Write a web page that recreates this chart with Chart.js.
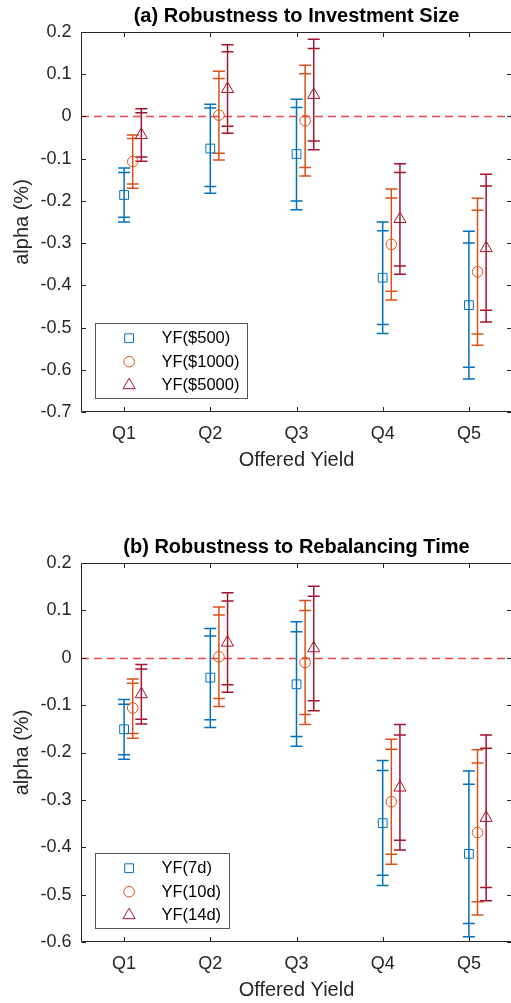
<!DOCTYPE html>
<html>
<head>
<meta charset="utf-8">
<script src="https://cdn.jsdelivr.net/npm/chart.js@4.4.1/dist/chart.umd.min.js"></script>
<style>
  html, body { margin: 0; padding: 0; background: #fff; overflow: hidden; }
  .panel { position: absolute; left: 0; }
</style>
</head>
<body>
<canvas id="chartA" class="panel" width="520" height="480" style="top:0px"></canvas>
<canvas id="chartB" class="panel" width="520" height="479" style="top:531px"></canvas>
<script>
const quintiles = ["Q1", "Q2", "Q3", "Q4", "Q5"];

// (a) investment size: alpha and confidence bounds [low, high] per quintile
const alphaUsd500 = [-0.186, -0.076, -0.089, -0.382, -0.447];
const ci90Usd500 = [[-0.239, -0.133], [-0.166, 0.020], [-0.200, 0.021], [-0.493, -0.271], [-0.594, -0.300]];
const ci95Usd500 = [[-0.250, -0.122], [-0.182, 0.029], [-0.221, 0.041], [-0.514, -0.250], [-0.622, -0.272]];

const alphaUsd1000 = [-0.107, 0.003, -0.010, -0.303, -0.368];
const ci90Usd1000 = [[-0.160, -0.052], [-0.087, 0.090], [-0.121, 0.101], [-0.414, -0.193], [-0.515, -0.222]];
const ci95Usd1000 = [[-0.170, -0.044], [-0.103, 0.107], [-0.141, 0.121], [-0.435, -0.172], [-0.542, -0.194]];

const alphaUsd5000 = [-0.044, 0.065, 0.051, -0.243, -0.312];
const ci90Usd5000 = [[-0.096, 0.009], [-0.023, 0.153], [-0.058, 0.161], [-0.354, -0.133], [-0.459, -0.165]];
const ci95Usd5000 = [[-0.106, 0.018], [-0.040, 0.170], [-0.079, 0.183], [-0.374, -0.112], [-0.487, -0.137]];

// (b) rebalancing time
const alpha7d = [-0.151, -0.042, -0.056, -0.349, -0.414];
const ci90_7d = [[-0.205, -0.098], [-0.131, 0.046], [-0.166, 0.055], [-0.459, -0.238], [-0.561, -0.267]];
const ci95_7d = [[-0.214, -0.088], [-0.147, 0.062], [-0.187, 0.076], [-0.481, -0.217], [-0.589, -0.239]];

const alpha10d = [-0.106, 0.002, -0.010, -0.304, -0.369];
const ci90_10d = [[-0.160, -0.054], [-0.086, 0.090], [-0.120, 0.100], [-0.415, -0.193], [-0.515, -0.222]];
const ci95_10d = [[-0.170, -0.045], [-0.103, 0.107], [-0.141, 0.121], [-0.436, -0.172], [-0.543, -0.194]];

const alpha14d = [-0.077, 0.032, 0.020, -0.274, -0.338];
const ci90_14d = [[-0.130, -0.024], [-0.057, 0.120], [-0.091, 0.130], [-0.385, -0.163], [-0.485, -0.191]];
const ci95_14d = [[-0.140, -0.014], [-0.073, 0.137], [-0.112, 0.151], [-0.406, -0.141], [-0.513, -0.163]];

const yTicksA = [0.2, 0.1, 0, -0.1, -0.2, -0.3, -0.4, -0.5, -0.6, -0.7];
const yTicksB = [0.2, 0.1, 0, -0.1, -0.2, -0.3, -0.4, -0.5, -0.6];

const colors = ["#0072BD", "#D95319", "#A2142F"];
const markers = [
    { style: "rect", radius: 6.2 },
    { style: "circle", radius: 5.3 },
    { style: "triangle", radius: 7 },
];
const seriesOffset = [0, 0.1, 0.2];
const axisColor = "#262626";

Chart.defaults.font.family = '"Liberation Sans", Arial, Helvetica, sans-serif';
Chart.defaults.color = axisColor;

// vertical bars with caps at both the 90% and 95% bounds, plus the dashed zero line
const ciBars = {
    id: "ciBars",
    beforeDatasetsDraw(chart) {
        const { ctx, chartArea, scales: { x, y } } = chart;
        ctx.save();
        const y0 = Math.round(y.getPixelForValue(0)) + 0.5;
        ctx.strokeStyle = "rgb(240,70,70)";
        ctx.lineWidth = 1.3;
        ctx.setLineDash([8, 5]);
        ctx.beginPath();
        ctx.moveTo(chartArea.left, y0);
        ctx.lineTo(chartArea.right, y0);
        ctx.stroke();
        ctx.setLineDash([]);

        chart.data.datasets.forEach(ds => {
            ctx.strokeStyle = ds.borderColor;
            ctx.lineWidth = 1.5;
            ds.data.forEach((p, i) => {
                const px = x.getPixelForValue(p.x);
                const [lo90, hi90] = ds.ci90[i];
                const [lo95, hi95] = ds.ci95[i];
                ctx.beginPath();
                ctx.moveTo(px, y.getPixelForValue(lo95));
                ctx.lineTo(px, y.getPixelForValue(hi95));
                [lo95, lo90, hi90, hi95].forEach(v => {
                    const py = y.getPixelForValue(v);
                    ctx.moveTo(px - 6, py);
                    ctx.lineTo(px + 6, py);
                });
                ctx.stroke();
            });
        });
        ctx.restore();
    },
};

// axes box with inward ticks, and the boxed legend in the lower left
const frameAndLegend = {
    id: "frameAndLegend",
    afterDraw(chart) {
        const { ctx, chartArea: a, scales: { x, y } } = chart;
        const L = Math.round(a.left) + 0.5, R = Math.round(a.right) - 0.5;
        const T = Math.round(a.top) + 0.5, B = Math.round(a.bottom) - 0.5;
        ctx.save();
        ctx.strokeStyle = axisColor;
        ctx.lineWidth = 1;
        ctx.beginPath();
        ctx.moveTo(L, T); ctx.lineTo(R, T); ctx.lineTo(R, B); ctx.lineTo(L, B); ctx.closePath();
        x.ticks.forEach(t => {
            const px = Math.round(x.getPixelForValue(t.value)) + 0.5;
            ctx.moveTo(px, B); ctx.lineTo(px, B - 4.5);
            ctx.moveTo(px, T); ctx.lineTo(px, T + 4.5);
        });
        y.ticks.forEach(t => {
            const py = Math.round(y.getPixelForValue(t.value)) + 0.5;
            ctx.moveTo(L, py); ctx.lineTo(L + 4.5, py);
            ctx.moveTo(R, py); ctx.lineTo(R - 4.5, py);
        });
        ctx.stroke();

        // legend
        ctx.font = '16.5px "Liberation Sans", Arial, sans-serif';
        const sets = chart.data.datasets;
        const textW = Math.max(...sets.map(d => ctx.measureText(d.label).width));
        const left = Math.round(a.left + 14) + 0.5;
        const h = 75;
        const top = Math.round(a.bottom - 14 - h) + 0.5;
        const w = Math.round(66 + textW + 8);
        ctx.fillStyle = "#fff";
        ctx.fillRect(left, top, w, h);
        ctx.strokeStyle = "#555";
        ctx.strokeRect(left, top, w, h);
        ctx.textBaseline = "middle";
        ctx.textAlign = "left";
        sets.forEach((ds, i) => {
            const ry = top + 14.7 + i * 23.5;
            ctx.strokeStyle = ds.borderColor;
            ctx.fillStyle = "rgba(0,0,0,0)";
            ctx.lineWidth = 1;
            Chart.helpers.drawPoint(ctx, { pointStyle: ds.pointStyle, radius: ds.pointRadius, borderWidth: 1, rotation: 0 }, left + 33.6, ry);
            ctx.fillStyle = "#000";
            ctx.fillText(ds.label, left + 66, ry + 0.5);
        });
        ctx.restore();
    },
};

function makePanel(canvasId, title, labels, alphas, ci90s, ci95s, yTicks) {
    const datasets = labels.map((label, k) => ({
        label: label,
        data: alphas[k].map((v, i) => ({ x: i + 1 + seriesOffset[k], y: v })),
        ci90: ci90s[k],
        ci95: ci95s[k],
        borderColor: colors[k],
        pointBorderColor: colors[k],
        pointBackgroundColor: "rgba(0,0,0,0)",
        pointStyle: markers[k].style,
        pointRadius: markers[k].radius,
        pointBorderWidth: 1,
        showLine: false,
    }));

    const ctx = document.getElementById(canvasId).getContext("2d");
    return new Chart(ctx, {
        type: "scatter",
        data: { datasets: datasets },
        options: {
            responsive: false,
            animation: false,
            events: [],
            devicePixelRatio: 1,
            layout: { padding: { left: 0, right: 4, top: 0, bottom: 0 } },
            plugins: {
                legend: { display: false },
                tooltip: { enabled: false },
                title: {
                    display: true,
                    text: title,
                    fullSize: false,
                    color: "#000",
                    font: { size: 20, weight: "bold" },
                    padding: { top: 4, bottom: 4 },
                },
            },
            scales: {
                x: {
                    type: "linear",
                    min: 0.5,
                    max: 5.5,
                    afterBuildTicks: scale => {
                        scale.ticks = quintiles.map((q, i) => ({ value: i + 1 }));
                    },
                    afterFit: scale => { scale.height = 68; },
                    grid: { display: false, drawTicks: false },
                    border: { display: false },
                    ticks: {
                        callback: (v, i) => quintiles[i],
                        font: { size: 18 },
                        padding: 11,
                        maxRotation: 0,
                    },
                    title: {
                        display: true,
                        text: "Offered Yield",
                        font: { size: 20 },
                        padding: { top: 0, bottom: 8 },
                    },
                },
                y: {
                    min: yTicks[yTicks.length - 1],
                    max: yTicks[0],
                    afterBuildTicks: scale => {
                        scale.ticks = yTicks.map(v => ({ value: v }));
                    },
                    afterFit: scale => { scale.width = 81; },
                    grid: { display: false, drawTicks: false },
                    border: { display: false },
                    ticks: {
                        callback: v => (Math.abs(v) < 1e-9 ? "0" : v.toFixed(1)),
                        font: { size: 18 },
                        padding: 9.5,
                    },
                    title: {
                        display: true,
                        text: "alpha (%)",
                        font: { size: 20 },
                        padding: { top: 10, bottom: 0 },
                    },
                },
            },
        },
        plugins: [ciBars, frameAndLegend],
    });
}

document.addEventListener("DOMContentLoaded", () => {
    makePanel("chartA", "(a) Robustness to Investment Size",
        ["YF($500)", "YF($1000)", "YF($5000)"],
        [alphaUsd500, alphaUsd1000, alphaUsd5000],
        [ci90Usd500, ci90Usd1000, ci90Usd5000],
        [ci95Usd500, ci95Usd1000, ci95Usd5000],
        yTicksA);

    makePanel("chartB", "(b) Robustness to Rebalancing Time",
        ["YF(7d)", "YF(10d)", "YF(14d)"],
        [alpha7d, alpha10d, alpha14d],
        [ci90_7d, ci90_10d, ci90_14d],
        [ci95_7d, ci95_10d, ci95_14d],
        yTicksB);
});
</script>
</body>
</html>
